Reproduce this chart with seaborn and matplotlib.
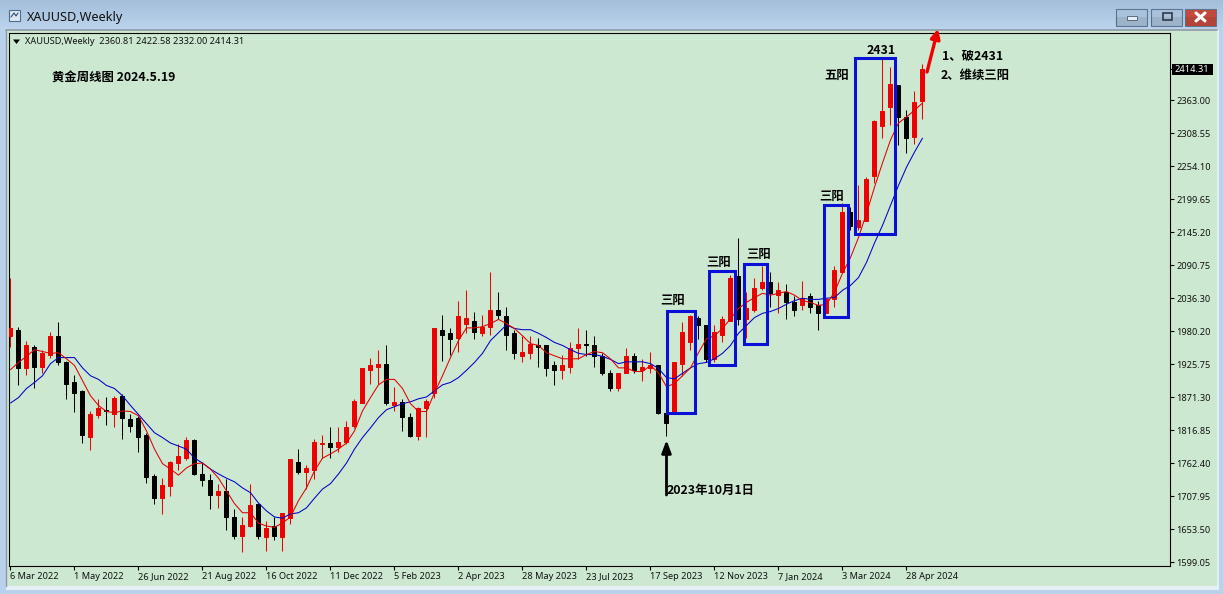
import numpy as np
import pandas as pd
import seaborn as sns
import matplotlib.pyplot as plt
from matplotlib.patches import Rectangle, Polygon

# Weekly XAUUSD candles
opens = [1973,1984,1920,1956,1923,1943,1973,1930,1897,1883,
         1807,1844,1852,1845,1875,1837,1839,1811,1743,1706,
         1726,1764,1772,1802,1746,1736,1711,1718,1675,1643,
         1660,1697,1642,1660,1642,1673,1766,1749,1753,1796,
         1797,1791,1799,1825,1863,1918,1923,1928,1860,1865,
         1840,1809,1854,1880,1984,1979,1971,1994,1999,1979,
         1989,2016,2007,1978,1941,1945,1959,1958,1925,1917,
         1923,1953,1961,1958,1941,1913,1887,1913,1940,1918,
         1921,1925,1847,1847,1928,1964,2004,1992,1936,1976,
         1999,2072,2002,2017,2052,2062,2042,2046,2029,2024,
         2039,2024,2012,2034,2080,2179,2153,2163,2237,2320,
         2351,2388,2335,2302,2360.81]
closes = [1986,1920,1958,1923,1946,1973,1930,1895,1880,1811,
          1845,1854,1850,1872,1839,1825,1807,1741,1706,1728,
          1766,1776,1802,1746,1736,1711,1718,1675,1643,1662,
          1695,1643,1657,1643,1682,1771,1749,1756,1799,1797,
          1791,1799,1824,1867,1920,1926,1928,1863,1865,1840,
          1809,1855,1867,1986,1976,1968,2007,2004,1981,1989,
          2016,2009,1976,1945,1948,1961,1956,1920,1918,1925,
          1953,1961,1958,1941,1912,1888,1913,1940,1918,1923,
          1925,1847,1830,1930,1981,2006,1991,1936,1981,2001,
          2070,2002,2019,2052,2062,2044,2049,2029,2017,2036,
          2022,2012,2034,2083,2178,2155,2165,2232,2328,2345,
          2389,2335,2300,2360,2414.31]
highs = [2070,1989,1966,1959,1950,1981,1997,1933,1910,1885,
         1850,1870,1873,1875,1878,1845,1842,1814,1746,1739,
         1768,1796,1807,1804,1766,1746,1730,1738,1688,1675,
         1730,1698,1668,1675,1682,1771,1787,1761,1804,1811,
         1824,1824,1834,1870,1921,1938,1950,1959,1890,1870,
         1847,1857,1870,1986,2009,1987,2032,2049,2014,2009,
         2080,2047,2022,1984,1973,1973,1971,1958,1933,1943,
         1964,1987,1983,1973,1945,1917,1913,1953,1946,1936,
         1948,1926,1847,1931,1997,2009,2007,1992,1992,2007,
         2075,2135,2047,2070,2089,2079,2062,2059,2039,2065,
         2044,2032,2036,2089,2193,2186,2222,2236,2330,2431,
         2418,2388,2346,2378,2422.58]
lows = [1956,1893,1910,1888,1913,1938,1925,1870,1849,1797,
        1786,1839,1827,1824,1804,1815,1782,1731,1697,1680,
        1710,1753,1769,1744,1726,1688,1690,1653,1638,1617,
        1658,1638,1619,1637,1619,1663,1746,1721,1738,1772,
        1772,1782,1796,1822,1863,1895,1895,1860,1850,1817,
        1807,1802,1807,1872,1933,1943,1948,1979,1968,1973,
        1976,2001,1950,1935,1930,1936,1923,1908,1892,1902,
        1912,1936,1940,1923,1910,1883,1883,1912,1913,1900,
        1912,1845,1809,1847,1908,1951,1968,1931,1930,1963,
        1999,1992,1971,2014,2049,2022,2011,2001,2007,2017,
        2012,1983,2011,2022,2080,2148,2148,2163,2226,2300,
        2322,2289,2275,2290,2332.00]

# Moving averages, one reading per bar
ma_red = [1918,1930,1940,1951,1948,1945,1946,1936,1925,1900,
          1875,1859,1849,1847,1850,1849,1842,1817,1787,1763,
          1754,1744,1756,1763,1764,1754,1739,1718,1697,1682,
          1682,1665,1660,1658,1665,1675,1702,1723,1751,1772,
          1779,1787,1797,1817,1850,1872,1893,1902,1902,1887,
          1862,1849,1849,1880,1908,1938,1966,1987,1987,1989,
          1994,2001,1994,1986,1974,1961,1958,1946,1941,1936,
          1936,1936,1943,1948,1946,1936,1921,1921,1915,1915,
          1925,1913,1890,1895,1908,1921,1946,1969,1974,1986,
          2002,2019,2029,2037,2044,2041,2044,2047,2041,2032,
          2029,2024,2026,2046,2077,2103,2136,2176,2219,2259,
          2297,2325,2335,2346,2358]
ma_blue = [1863,1872,1887,1897,1908,1928,1938,1938,1938,1921,
           1908,1902,1892,1887,1875,1859,1844,1829,1814,1806,
           1797,1792,1787,1772,1764,1754,1746,1739,1733,1723,
           1715,1698,1685,1675,1673,1680,1682,1690,1706,1721,
           1730,1746,1764,1787,1806,1822,1839,1852,1857,1862,
           1865,1870,1873,1883,1893,1897,1905,1917,1930,1945,
           1966,1979,1992,1986,1984,1984,1978,1971,1963,1958,
           1951,1945,1943,1943,1940,1935,1928,1931,1931,1931,
           1928,1920,1905,1903,1912,1921,1928,1930,1936,1945,
           1958,1978,1991,2004,2011,2014,2019,2026,2032,2036,
           2034,2034,2036,2037,2049,2057,2070,2095,2127,2156,
           2189,2222,2252,2277,2300]

date_labels = ['6 Mar 2022', '1 May 2022', '26 Jun 2022', '21 Aug 2022', '16 Oct 2022',
               '11 Dec 2022', '5 Feb 2023', '2 Apr 2023', '28 May 2023', '23 Jul 2023',
               '17 Sep 2023', '12 Nov 2023', '7 Jan 2024', '3 Mar 2024', '28 Apr 2024']
price_ticks = [2363.00, 2308.55, 2254.10, 2199.65, 2145.20, 2090.75, 2036.30, 1981.85,
               1927.40, 1872.95, 1818.50, 1764.05, 1709.60, 1655.15, 1600.70]
price_labels = ['2363.00', '2308.55', '2254.10', '2199.65', '2145.20', '2090.75', '2036.30',
                '1980.20', '1925.75', '1871.30', '1816.85', '1762.40', '1707.95', '1653.50', '1599.05']
last_price = 2414.31

df = pd.DataFrame({'bar': np.arange(len(opens)), 'open': opens, 'high': highs, 'low': lows,
                   'close': closes, 'ma_red': ma_red, 'ma_blue': ma_blue})

GREEN = '#cde8d0'
W, H = 1223, 594
CJK = ['Noto Sans CJK SC', 'DejaVu Sans']
UI = ['Noto Sans', 'DejaVu Sans']

sns.set_style('white')
plt.rcParams['font.family'] = UI

fig = plt.figure(figsize=(W / 100, H / 100), dpi=100, facecolor='#b9d1ea')


def frac_box(left, top, right, bottom):
    return [left / W, 1 - bottom / H, (right - left) / W, (bottom - top) / H]


# overlay in pixel coordinates for the window frame and the hand drawn notes
back = fig.add_axes([0, 0, 1, 1], zorder=0)
back.imshow(np.linspace(0.0, 1.0, 30).reshape(-1, 1), extent=(0, W, 30, 0), aspect='auto',
            cmap=sns.blend_palette(['#a4bedb', '#bcd4ec'], as_cmap=True), zorder=0)
back.set_xlim(0, W)
back.set_ylim(H, 0)
back.axis('off')
back.add_patch(Rectangle((6, 30), 1213, 560, fc='#e6eef6', ec='none', zorder=1))
back.add_patch(Rectangle((6, 30), 1211, 556, fc=GREEN, ec='none', zorder=1))
back.plot([6, 1217], [30, 30], color='#8f9aa6', lw=1.2, zorder=2)
back.plot([6, 6], [30, 586], color='#8f9aa6', lw=1.0, zorder=2)

# window title and buttons
back.add_patch(Rectangle((9, 10), 11, 11, fc='#dfe8f2', ec='#4d6d92', lw=0.8, zorder=2))
back.plot([11, 14, 16, 18], [17, 13, 16, 13], color='#2a4d78', lw=0.8, zorder=3)
back.text(27, 17.5, 'XAUUSD,Weekly', fontsize=9.1, color='#111111', va='center', ha='left', zorder=3)
for left, face, mark in [(1116, '#a9c1da', 'min'), (1151, '#a9c1da', 'max'), (1185, '#c4493c', 'close')]:
    back.add_patch(Rectangle((left, 8.5), 31, 17, fc=face, ec='#5d7590', lw=0.8, zorder=2))
    back.add_patch(Rectangle((left, 17), 31, 8.5, fc='black', alpha=0.07, ec='none', zorder=2))
    cx = left + 15.5
    if mark == 'min':
        back.add_patch(Rectangle((cx - 5, 16), 10, 4, fc='#e8eef5', ec='#4a5a6c', lw=0.6, zorder=3))
    elif mark == 'max':
        back.add_patch(Rectangle((cx - 4, 13), 9, 7, fc='none', ec='#2d3b4a', lw=1.2, zorder=3))
    else:
        back.plot([cx - 4.5, cx + 4.5], [13, 21], color='white', lw=2.2, zorder=3)
        back.plot([cx - 4.5, cx + 4.5], [21, 13], color='white', lw=2.2, zorder=3)

# chart axes: 8 px per bar, price scale from the axis labels
ax = fig.add_axes(frac_box(9, 33, 1170, 565.5), zorder=1)
ax.patch.set_alpha(0)
k = (2363.0 - 1600.7) / 462
ax.set_ylim(1600.7 - 3.5 * k, 2363.0 + 67 * k)
ax.set_xlim(-0.1875, 144.94)

up = df[df['close'] >= df['open']]
down = df[df['close'] < df['open']]
for part, colour in [(up, '#f00000'), (down, 'black')]:
    ax.vlines(part['bar'], part['low'], part['high'], color=colour, lw=0.75, zorder=2)
    ax.bar(part['bar'], part['close'] - part['open'], bottom=part['open'], width=0.5,
           color=colour, edgecolor=colour, linewidth=0.72, zorder=3)

sns.lineplot(data=df, x='bar', y='ma_blue', color='#0000c8', lw=0.75, ax=ax, zorder=4, legend=False)
sns.lineplot(data=df, x='bar', y='ma_red', color='#e00000', lw=0.75, ax=ax, zorder=5, legend=False)

ax.set_xlabel('')
ax.set_ylabel('')
ax.set_xticks(np.arange(len(date_labels)) * 8)
ax.set_xticklabels(date_labels, ha='left', fontsize=6.6, color='#111111')
ax.yaxis.tick_right()
ax.set_yticks(price_ticks + [last_price])
ax.set_yticklabels(price_labels + [''], fontsize=6.6, color='#111111')
ax.tick_params(axis='x', length=3, width=0.8, pad=1.5, bottom=True, color='black')
ax.tick_params(axis='y', length=3, width=0.8, pad=1.8, right=True, color='black')
for side in ['top', 'right', 'bottom', 'left']:
    ax.spines[side].set_color('black')
    ax.spines[side].set_linewidth(0.8)

# notes on top of the chart
over = fig.add_axes([0, 0, 1, 1], zorder=2)
over.set_xlim(0, W)
over.set_ylim(H, 0)
over.axis('off')
over.patch.set_alpha(0)

over.add_patch(Rectangle((1172, 64), 41, 11, fc='black', ec='none'))
over.text(1192, 69.4, '2414.31', color='white', fontsize=6.6, ha='center', va='center')

over.add_patch(Polygon([(13, 39.5), (20, 39.5), (16.5, 44)], fc='black', ec='none'))
over.text(25, 41.5, 'XAUUSD,Weekly  2360.81 2422.58 2332.00 2414.31', fontsize=6.6,
          color='#111111', ha='left', va='center')

for left, top, right, bottom in [(667, 311, 695, 413), (709, 271, 735, 365), (744, 264, 767, 344),
                                 (824, 205, 848, 317), (855, 58, 895, 234)]:
    over.add_patch(Rectangle((left, top), right - left, bottom - top, fc='none', ec='#0a10d8', lw=2.2))

notes = [(52, 78, '黄金周线图 2024.5.19', 'left'), (673, 300, '三阳', 'center'), (718.5, 262, '三阳', 'center'),
         (758.5, 254, '三阳', 'center'), (832, 196, '三阳', 'center'), (837, 75, '五阳', 'center'),
         (881, 50, '2431', 'center'), (942, 56, '1、破2431', 'left'), (941, 75, '2、维续三阳', 'left'),
         (667, 490, '2023年10月1日', 'left')]
for x, y, label, align in notes:
    over.text(x, y, label, family=CJK, fontweight='bold', fontsize=8.9, color='black', ha=align, va='center')

over.annotate('', xy=(666.5, 440), xytext=(666.5, 495),
              arrowprops=dict(arrowstyle='-|>,head_width=0.28,head_length=0.75', color='black', lw=2.0,
                              shrinkA=0, shrinkB=0))
over.annotate('', xy=(938, 29), xytext=(927, 72),
              arrowprops=dict(arrowstyle='-|>,head_width=0.28,head_length=0.55', color='#f00000', lw=2.4,
                              shrinkA=0, shrinkB=0))

plt.savefig('out.png', dpi=100, facecolor=fig.get_facecolor())
